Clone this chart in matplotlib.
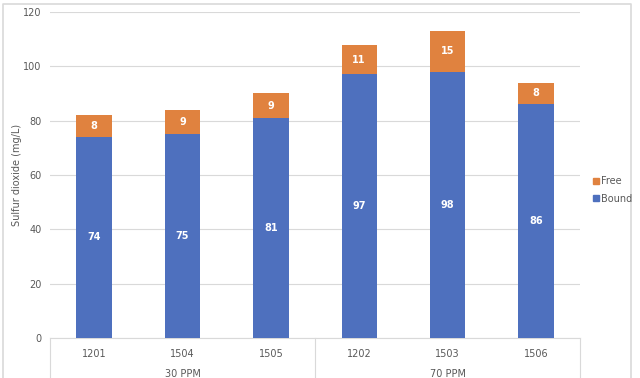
import matplotlib.pyplot as plt
from matplotlib.lines import Line2D
import numpy as np

samples = ['1201', '1504', '1505', '1202', '1503', '1506']
groups = ['30 PPM', '70 PPM']
bound = [74, 75, 81, 97, 98, 86]
free = [8, 9, 9, 11, 15, 8]

blue = '#4E70BE'
orange = '#E0823F'
grey = '#595959'
gridc = '#D9D9D9'

fig = plt.figure(figsize=(6.4, 3.78), dpi=100)
# chart border (bottom edge is off the picture)
bl, br, bt = 3/640, 631/640, 1 - 4/378
fig.add_artist(Line2D([bl, bl, br, br], [0, bt, bt, 0], transform=fig.transFigure,
                      color=gridc, lw=1.2))
ax = fig.add_axes([50/640, 1-338/378, 530/640, 326/378])

x = np.arange(len(samples))
w = 0.4
ax.bar(x, bound, w, color=blue, zorder=3, label='Bound')
ax.bar(x, free, w, bottom=bound, color=orange, zorder=3, label='Free')

for i in range(len(samples)):
    ax.text(x[i], bound[i]/2, str(bound[i]), color='white', ha='center', va='center',
            fontsize=7, fontweight='bold', zorder=4)
    ax.text(x[i], bound[i] + free[i]/2, str(free[i]), color='white', ha='center', va='center',
            fontsize=7, fontweight='bold', zorder=4)

ax.set_xlim(-0.5, 5.5)
ax.set_ylim(0, 120)
ax.set_yticks(range(0, 121, 20))
ax.yaxis.grid(True, color=gridc, lw=0.8, zorder=0)
for s in ['top', 'right', 'left']:
    ax.spines[s].set_visible(False)
ax.spines['bottom'].set_color(gridc)
ax.tick_params(axis='y', length=0, labelsize=7, labelcolor=grey, pad=6)
ax.set_xticks(x)
ax.set_xticklabels(samples)
ax.tick_params(axis='x', length=0, labelsize=7, labelcolor=grey, pad=8)
ax.set_ylabel('Sulfur dioxide (mg/L)', fontsize=7, color=grey)
ax.yaxis.set_label_coords(-28/530, 0.5)

# group separators and labels
for xs in [50, 315, 580]:
    fig.add_artist(Line2D([xs/640, xs/640], [0.001, 1-338/378], transform=fig.transFigure,
                          color=gridc, lw=0.8))
for gi, g in enumerate(groups):
    ax.text(gi*3 + 1, -0.11, g, transform=ax.get_xaxis_transform(), ha='center',
            va='center', fontsize=7, color=grey)

handles = [Line2D([], [], marker='s', ls='none', color=orange, markersize=5),
           Line2D([], [], marker='s', ls='none', color=blue, markersize=5)]
fig.legend(handles, ['Free', 'Bound'], loc='center left', bbox_to_anchor=(582/640, 1-190/378),
           frameon=False, fontsize=7, labelcolor=grey, handletextpad=0.1, labelspacing=0.8,
           handlelength=1)

fig.savefig('out.png', dpi=100)
